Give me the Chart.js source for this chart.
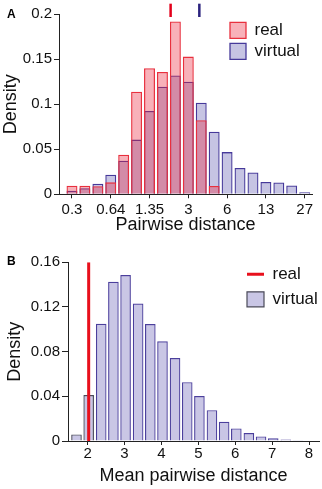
<!DOCTYPE html>
<html><head><meta charset="utf-8">
<script src="https://cdn.jsdelivr.net/npm/chart.js@4.4.0/dist/chart.umd.min.js"></script>
<style>
html,body{margin:0;padding:0;background:#fff;}
#wrap{position:relative;width:322px;height:489px;overflow:hidden;background:#fff;}
canvas{position:absolute;left:0;display:block;}
#ca{top:0;}
#cb{top:244px;}
.lab{position:absolute;font:bold 12px "Liberation Sans",Arial,sans-serif;line-height:12px;color:#000;}
</style></head><body>
<div id="wrap">
<canvas id="ca" width="322" height="244" style="width:322px;height:244px"></canvas>
<canvas id="cb" width="322" height="245" style="width:322px;height:245px"></canvas>
<div class="lab" style="left:7px;top:8px">A</div>
<div class="lab" style="left:7px;top:255px">B</div>
</div>
<script>
// ---------- Panel A data ----------
const binCentersA = [0.3,0.385,0.495,0.635,0.815,1.046,1.343,1.725,2.215,2.844,3.652,4.689,6.02,7.73,9.93,12.75,16.37,21.0,27];
const realA    = [0.0095,0.0095,0.009,0.0133,0.044,0.114,0.140,0.136,0.192,0.153,0.0824,0.0092,null,null,null,null,null,null,null];
const virtualA = [0.004,0.0067,0.0118,0.0218,0.0374,0.0608,0.0926,0.1196,0.132,0.125,0.1018,0.0696,0.0469,0.0293,0.0242,0.0136,0.0132,0.0099,0.0022];
const tickValuesA = [0.3,0.635,1.343,2.844,6.02,12.75,27];
const tickLabelsA = ['0.3','0.64','1.35','3','6','13','27'];
const yTicksA = [0,0.05,0.1,0.15,0.2];
const medianRealA = 2.02;
const medianVirtualA = 3.52;

// ---------- Panel B data ----------
const binCentersB = [1.70,2.03,2.37,2.70,3.03,3.37,3.70,4.03,4.37,4.70,5.03,5.37,5.70,6.03,6.37,6.70,7.03,7.37,7.70,8.03];
const virtualB = [0.0059,0.0412,0.105,0.1426,0.1486,0.123,0.1047,0.0893,0.0743,0.0527,0.0403,0.0276,0.0172,0.0113,0.0071,0.0041,0.0024,0.0013,0.0006,0.0004];
const realB = 2.03;
const xTicksB = [2,3,4,5,6,7,8];
const yTicksB = [0,0.04,0.08,0.12,0.16];

const FONT = '"Liberation Sans", Arial, Helvetica, sans-serif';
Chart.defaults.font.family = FONT;
Chart.defaults.color = '#111';
Chart.defaults.animation = false;

const AX = '#222';
const legendPos = (x, y) => ({
  id: 'legendPos',
  afterLayout(chart) {
    const l = chart.legend;
    const w = l.width;
    l.left = x; l.top = y; l.right = x + w; l.bottom = y + 200;
  }
});
const baseLegend = Chart.defaults.plugins.legend.labels.generateLabels;

// ---------- Chart A ----------
new Chart(document.getElementById('ca'), {
  type: 'bar',
  data: {
    datasets: [
      { label: 'real', data: binCentersA.map((x, i) => ({x, y: realA[i]})),
        backgroundColor: 'rgba(236,40,62,0.36)', borderColor: '#e8303e', borderWidth: 1.3,
        grouped: false, barPercentage: 0.85, categoryPercentage: 1, legendStyle: 'rect' },
      { label: 'virtual', data: binCentersA.map((x, i) => ({x, y: virtualA[i]})),
        backgroundColor: 'rgba(60,50,160,0.29)', borderColor: '#46399a', borderWidth: 1.3,
        grouped: false, barPercentage: 0.85, categoryPercentage: 1, legendStyle: 'rect' },
      { type: 'line', label: 'real median', data: [{x: medianRealA, y: 0.197}, {x: medianRealA, y: 0.2118}],
        borderColor: '#e3001b', borderWidth: 2.5, pointRadius: 0, clip: false },
      { type: 'line', label: 'virtual median', data: [{x: medianVirtualA, y: 0.197}, {x: medianVirtualA, y: 0.2118}],
        borderColor: '#2b237e', borderWidth: 2.5, pointRadius: 0, clip: false }
    ]
  },
  options: {
    responsive: false, devicePixelRatio: 1, events: [],
    layout: { padding: { top: 14.3, right: 10, bottom: 0, left: 0 } },
    scales: {
      x: {
        type: 'logarithmic', min: 0.2334, max: 31.09, offset: false,
        grid: { drawOnChartArea: false, drawTicks: true, tickLength: 4, color: AX, offset: false },
        border: { color: AX, width: 1 },
        afterBuildTicks: s => { s.ticks = tickValuesA.map(v => ({value: v})); },
        ticks: { autoSkip: false, maxRotation: 0, padding: 2.2, font: { size: 15 }, color: '#111',
                 callback: (v, i) => tickLabelsA[i] },
        title: { display: true, text: 'Pairwise distance', font: { size: 18 }, color: '#111',
                 padding: { top: 0, bottom: 7.8 } },
        afterFit: s => { s.height = 244 - 194.3; }
      },
      y: {
        min: 0, max: 0.2,
        grid: { drawOnChartArea: false, tickLength: 5, color: AX },
        border: { color: AX, width: 1 },
        afterBuildTicks: s => { s.ticks = yTicksA.map(v => ({value: v})); },
        ticks: { padding: 2, font: { size: 15 }, color: '#111', callback: v => String(+v.toFixed(3)) },
        title: { display: true, text: 'Density', font: { size: 18 }, color: '#111', padding: { top: 0, bottom: 0 } },
        afterFit: s => { s.width = 59; }
      }
    },
    plugins: {
      tooltip: { enabled: false },
      legend: {
        position: 'chartArea', fullSize: false, align: 'start',
        labels: {
          boxWidth: 16, boxHeight: 16, padding: 4, color: '#111', font: { size: 17 },
          filter: it => it.datasetIndex < 2
        }
      }
    }
  },
  plugins: [legendPos(226, 17.8)]
});

// ---------- Chart B ----------
const borderB = binCentersB.map(x => x <= realB + 0.01 ? '#4a4a58' : '#4b3f9c');
new Chart(document.getElementById('cb'), {
  type: 'bar',
  data: {
    datasets: [
      { type: 'line', label: 'real', data: [{x: realB, y: 0}, {x: realB, y: 0.16}],
        borderColor: '#e8101c', backgroundColor: '#e8101c', borderWidth: 3, pointRadius: 0,
        order: 0, legendStyle: 'line' },
      { label: 'virtual', data: binCentersB.map((x, i) => ({x, y: virtualB[i]})),
        backgroundColor: 'rgba(60,50,160,0.28)', borderColor: borderB, borderWidth: 1.2,
        grouped: false, barPercentage: 0.87, categoryPercentage: 1, order: 1, legendStyle: 'rect' }
    ]
  },
  options: {
    responsive: false, devicePixelRatio: 1, events: [],
    layout: { padding: { top: 18.3, right: 3, bottom: 0, left: 0 } },
    scales: {
      x: {
        type: 'linear', min: 1.47, max: 8.27, offset: false,
        grid: { drawOnChartArea: false, drawTicks: true, tickLength: 4, color: AX, offset: false },
        border: { color: AX, width: 1 },
        afterBuildTicks: s => { s.ticks = xTicksB.map(v => ({value: v})); },
        ticks: { autoSkip: false, maxRotation: 0, padding: 0.3, font: { size: 15 }, color: '#111',
                 callback: v => String(v) },
        title: { display: true, text: 'Mean pairwise distance', font: { size: 18 }, color: '#111',
                 padding: { top: 0, bottom: 2.5 } },
        afterFit: s => { s.height = 245 - (441 - 244); }
      },
      y: {
        min: 0, max: 0.16,
        grid: { drawOnChartArea: false, tickLength: 6, color: AX },
        border: { color: AX, width: 1 },
        afterBuildTicks: s => { s.ticks = yTicksB.map(v => ({value: v})); },
        ticks: { padding: 2, font: { size: 15 }, color: '#111', callback: v => v === 0 ? '0' : v.toFixed(2) },
        title: { display: true, text: 'Density', font: { size: 18 }, color: '#111', padding: { top: 4.7, bottom: 0 } },
        afterFit: s => { s.width = 68; }
      }
    },
    plugins: {
      tooltip: { enabled: false },
      legend: {
        position: 'chartArea', fullSize: false, align: 'start',
        labels: {
          usePointStyle: true, pointStyleWidth: 17, boxHeight: 15, padding: 8, color: '#111', font: { size: 17 },
          sort: (a, b) => a.datasetIndex - b.datasetIndex,
          generateLabels: chart => baseLegend(chart).map(it => Object.assign(it, {
            pointStyle: chart.data.datasets[it.datasetIndex].legendStyle
          }))
        }
      }
    }
  },
  plugins: [legendPos(239, 13.8)]
});
</script>
</body></html>
